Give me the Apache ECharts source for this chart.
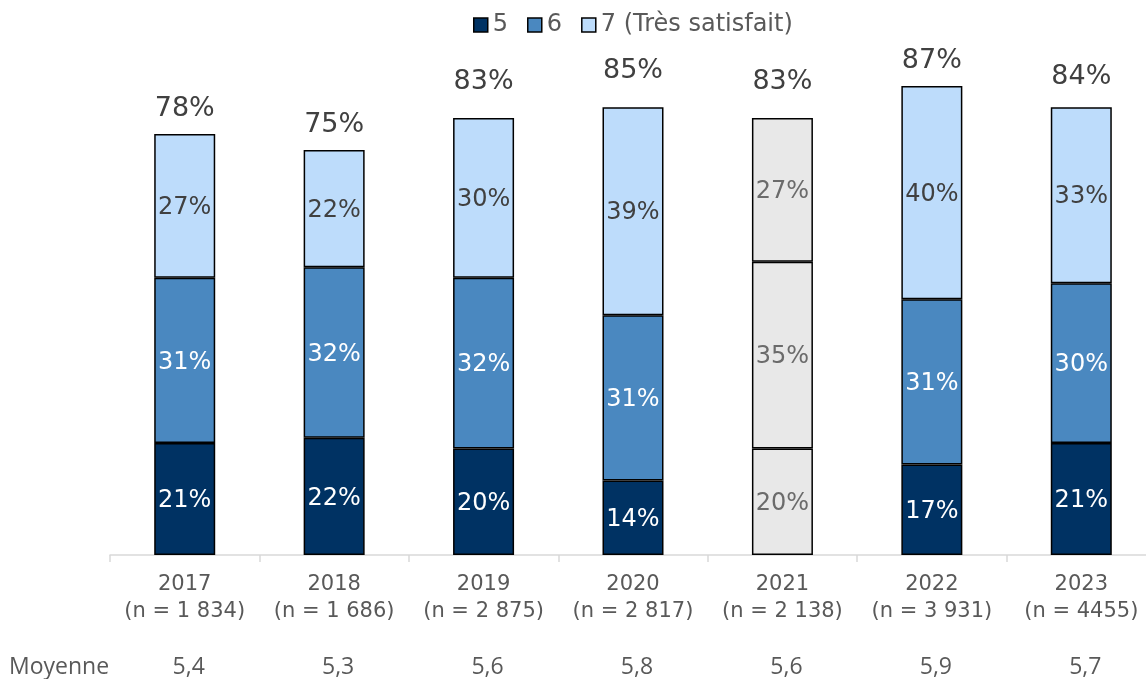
<!DOCTYPE html>
<html>
<head>
<meta charset="utf-8">
<script src="https://cdn.jsdelivr.net/npm/echarts@6/dist/echarts.min.js"></script>
<style>
  html, body { margin: 0; padding: 0; background: #ffffff; overflow: hidden; }
  #chart { width: 1156px; height: 679px; }
</style>
</head>
<body>
<div id="chart"></div>
<script>
// Years surveyed, sample sizes and mean score per year
const years = ['2017', '2018', '2019', '2020', '2021', '2022', '2023'];
const sampleSizes = ['1 834', '1 686', '2 875', '2 817', '2 138', '3 931', '4455'];
const means = ['5,4', '5,3', '5,6', '5,8', '5,6', '5,9', '5,7'];

// Share of respondents giving each score (%)
const score5 = [21, 22, 20, 14, 20, 17, 21];
const score6 = [31, 32, 32, 31, 35, 31, 30];
const score7 = [27, 22, 30, 39, 27, 40, 33];

// Published share of satisfied respondents (5 to 7)
const totals = [78, 75, 83, 85, 83, 87, 84];

// Year shown in grey (not comparable)
const greyYears = ['2021'];

const seriesNames = ['5', '6', '7 (Très satisfait)'];
const colors = ['#003263', '#4a88c0', '#bddcfb'];
const labelColors = ['#ffffff', '#ffffff', '#404040'];
const FONT = '"DejaVu Sans", Verdana, sans-serif';
const FONT_TABLE = '"Open Sans", sans-serif';

const chart = echarts.init(document.getElementById('chart'));

function buildData(values) {
  return values.map((v, i) => {
    if (greyYears.includes(years[i])) {
      return {
        value: v,
        itemStyle: { color: '#e8e8e8' },
        label: { color: '#6b6b6b' }
      };
    }
    return v;
  });
}

const stackSeries = [score5, score6, score7].map((vals, k) => ({
  name: seriesNames[k],
  type: 'bar',
  stack: 'share',
  barWidth: 61,
  data: buildData(vals),
  itemStyle: { color: colors[k], borderColor: '#000000', borderWidth: 1.5 },
  label: {
    show: true,
    position: 'inside',
    offset: [0, 2],
    formatter: p => p.value + '%',
    color: labelColors[k],
    fontFamily: FONT,
    fontSize: 24
  },
  emphasis: { disabled: true }
}));

// Invisible points at each total carry the total label
const totalSeries = {
  name: 'total',
  type: 'scatter',
  symbolSize: 0,
  data: totals,
  itemStyle: { opacity: 1 },
  label: {
    show: true,
    position: 'top',
    distance: 17,
    formatter: p => p.value + '%',
    color: '#404040',
    fontFamily: FONT,
    fontSize: 27
  },
  emphasis: { disabled: true },
  z: 5
};

chart.setOption({
  animation: false,
  legend: {
    data: seriesNames,
    top: 8,
    left: 468,
    icon: 'rect',
    itemWidth: 14,
    itemHeight: 14,
    itemGap: 19,
    textStyle: { fontFamily: FONT, fontSize: 24, color: '#595959', padding: [0, 0, 0, 0] },
    itemStyle: { borderColor: '#000000', borderWidth: 1.5 }
  },
  grid: { left: 110, right: 0, top: 22, bottom: 123 },
  xAxis: {
    type: 'category',
    data: years,
    axisLine: { lineStyle: { color: '#d9d9d9', width: 1.5 } },
    axisTick: { show: true, length: 7, lineStyle: { color: '#d9d9d9', width: 1.5 } },
    axisLabel: {
      margin: 16,
      interval: 0,
      formatter: (v, i) => '{y|' + v + '}\n{n|(n = ' + sampleSizes[i] + ')}\n{g| }\n{m|' + means[i] + '}',
      rich: {
        y: { fontFamily: FONT, fontSize: 21, color: '#595959', lineHeight: 27 },
        n: { fontFamily: FONT, fontSize: 21, color: '#595959', lineHeight: 27 },
        g: { fontSize: 10, lineHeight: 29 },
        m: { fontFamily: FONT_TABLE, fontSize: 23, color: '#595959', lineHeight: 27, padding: [0, 0, 0, 8] }
      }
    }
  },
  yAxis: {
    type: 'value',
    min: 0,
    max: 100,
    show: false,
    splitLine: { show: false }
  },
  graphic: [{
    type: 'text',
    left: 9,
    top: 656,
    style: {
      text: 'Moyenne',
      fontFamily: FONT_TABLE,
      fontSize: 23,
      fill: '#595959'
    }
  }],
  series: [...stackSeries, totalSeries]
});
</script>
</body>
</html>
